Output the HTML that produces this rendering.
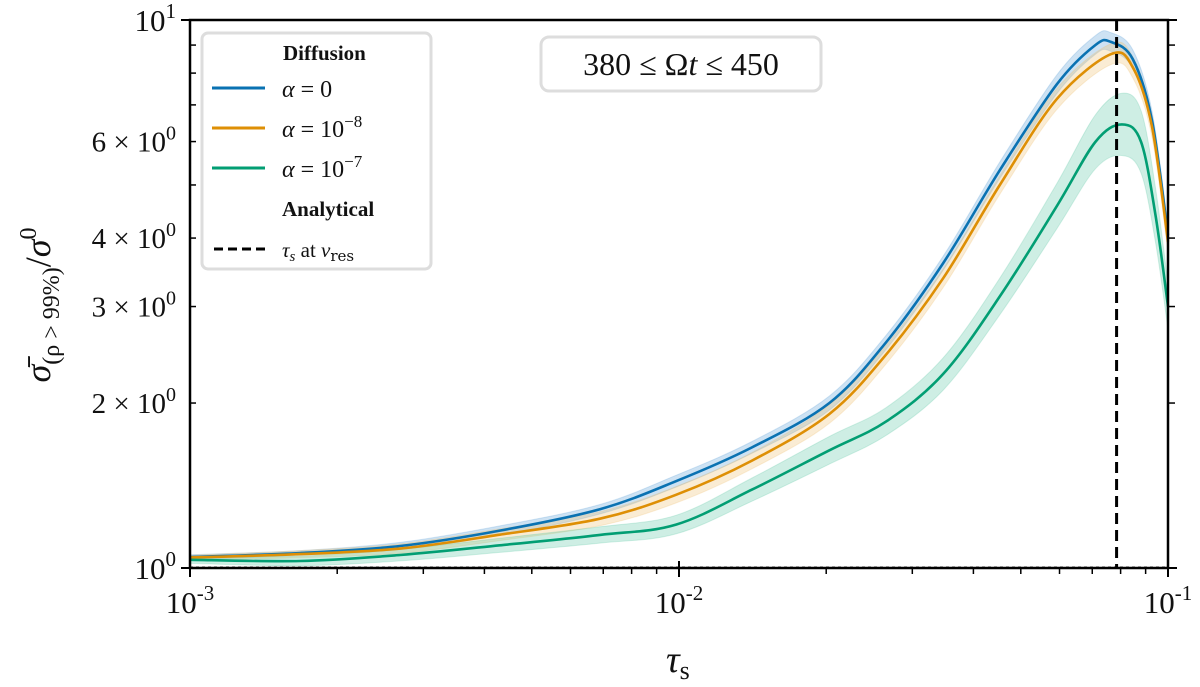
<!DOCTYPE html>
<html><head><meta charset="utf-8"><style>
html,body{margin:0;padding:0;background:#fff;}
svg{display:block;}
text{font-family:"Liberation Serif",serif;fill:#111;}
</style></head><body>
<svg id="chart" width="1200" height="687" viewBox="0 0 1200 687" xmlns="http://www.w3.org/2000/svg">
<g id="bands"></g>
<g id="lines"></g>
<g id="axes"></g>
</svg>
<script>
const tauBlue = [0.001,0.00168,0.00269,0.0043,0.00689,0.00986,0.0141,0.0203,0.0265,0.0347,0.0453,0.0593,0.071,0.0764,0.0847,0.0927,0.1];
const sigBlue = [1.047,1.065,1.097,1.17,1.28,1.44,1.66,2.0,2.58,3.6,5.32,7.64,9.0,9.12,8.49,6.57,4.05];
const errBlue = [0.01,0.01,0.015,0.02,0.02,0.025,0.025,0.03,0.03,0.03,0.035,0.04,0.04,0.04,0.04,0.04,0.04];
const tauOrange = [0.001,0.00168,0.00269,0.0043,0.00689,0.00986,0.0141,0.0203,0.0265,0.0347,0.0453,0.0593,0.0764,0.0847,0.0927,0.1];
const sigOrange = [1.045,1.06,1.085,1.15,1.23,1.36,1.57,1.91,2.45,3.38,5.0,7.18,8.66,8.2,6.4,3.94];
const errOrange = [0.01,0.015,0.02,0.025,0.03,0.035,0.035,0.04,0.04,0.04,0.04,0.045,0.045,0.045,0.045,0.045];
const tauGreen = [0.001,0.00168,0.00269,0.0043,0.00689,0.00986,0.0141,0.0203,0.0265,0.0347,0.0453,0.0593,0.071,0.0805,0.0881,0.0944,0.1];
const sigGreen = [1.035,1.03,1.056,1.10,1.149,1.20,1.39,1.64,1.85,2.26,3.13,4.58,5.99,6.45,5.99,4.37,3.0];
const errGreen = [0.015,0.02,0.025,0.03,0.035,0.04,0.05,0.06,0.06,0.07,0.08,0.10,0.12,0.14,0.14,0.12,0.1];
const tauRes = [0.0785];
const xMajorTicks = [0.001,0.01,0.1];
const xMajorLabels = ["-3","-2","-1"];
const yMajorTicks = [1,10];
const yMajorLabels = ["0","1"];
const yMinorLabeled = [2,3,4,6];

const X0=190,X1=1168,Y0=568,Y1=20;
function xs(v){return X0+(Math.log10(v)+3)/2*(X1-X0);}
function ys(v){return Y0-Math.log10(v)*(Y0-Y1);}
const NS="http://www.w3.org/2000/svg";
function mk(tag,attrs,parent){const e=document.createElementNS(NS,tag);for(const k in attrs)e.setAttribute(k,attrs[k]);parent.appendChild(e);return e;}
const bands=document.getElementById('bands'),lines=document.getElementById('lines'),axes=document.getElementById('axes');

function smooth(pts){
  let d='M'+pts[0][0].toFixed(1)+','+pts[0][1].toFixed(1);
  for(let i=0;i<pts.length-1;i++){
    const p0=pts[i-1]||pts[i],p1=pts[i],p2=pts[i+1],p3=pts[i+2]||p2;
    const c1=[p1[0]+(p2[0]-p0[0])/6,p1[1]+(p2[1]-p0[1])/6];
    const c2=[p2[0]-(p3[0]-p1[0])/6,p2[1]-(p3[1]-p1[1])/6];
    d+='C'+c1[0].toFixed(1)+','+c1[1].toFixed(1)+' '+c2[0].toFixed(1)+','+c2[1].toFixed(1)+' '+p2[0].toFixed(1)+','+p2[1].toFixed(1);
  }
  return d;
}
function series(t,s,err,color,fill,name){
  const up=t.map((v,i)=>[xs(v),ys(s[i]*(1+err[i]))]);
  const dn=t.map((v,i)=>[xs(v),ys(s[i]/(1+err[i]))]).reverse();
  const dd=smooth(up)+'L'+smooth(dn).slice(1)+'Z';
  const b=mk('path',{d:dd,fill:fill,'fill-opacity':0.3,stroke:fill,'stroke-opacity':0.25},bands);
  
  
  const l=mk('path',{d:smooth(t.map((v,i)=>[xs(v),ys(s[i])])),fill:'none',stroke:color,'stroke-width':2.6,'stroke-linejoin':'round'},lines);
  
  
}
series(tauBlue,sigBlue,errBlue,'#0a72b2','#5aa0d6','alpha-0');
series(tauOrange,sigOrange,errOrange,'#de8f05','#f0c070','alpha-1e-8');
series(tauGreen,sigGreen,errGreen,'#029e73','#5cc7a5','alpha-1e-7');

const base=mk('line',{x1:X0,x2:X1,y1:ys(1)-1,y2:ys(1)-1,stroke:'#333','stroke-width':1,'stroke-dasharray':'3,3'},lines);


const vres=mk('line',{x1:xs(tauRes[0]),x2:xs(tauRes[0]),y1:Y1,y2:Y0,stroke:'#000','stroke-width':3,'stroke-dasharray':'11,6'},lines);



const fr=mk('rect',{x:X0,y:Y1,width:X1-X0,height:Y0-Y1,fill:'none',stroke:'#000','stroke-width':2.5},axes);



for(let d=-3;d<=-1;d++){
  for(let m=1;m<10;m++){
    const v=m*Math.pow(10,d); if(v>0.1001)break;
    const x=xs(v);
    if(m===1){mk('line',{x1:x,x2:x,y1:Y0-7,y2:Y0+9,stroke:'#000','stroke-width':2},axes);}
    else mk('line',{x1:x,x2:x,y1:Y0,y2:Y0+6,stroke:'#000','stroke-width':1.5},axes);
  }
}
xMajorTicks.forEach((v,i)=>{
  const t=mk('text',{x:xs(v),y:613,'font-size':31,'text-anchor':'middle'},axes);
  
  
  t.innerHTML='10<tspan dy="-13" font-size="21">'+xMajorLabels[i]+'</tspan>';
});
for(let m=1;m<=10;m++){
  const y=ys(m);
  if(m===1||m===10){mk('line',{x1:X0-9,x2:X0+7,y1:y,y2:y,stroke:'#000','stroke-width':2},axes);mk('line',{x1:X1-7,x2:X1+9,y1:y,y2:y,stroke:'#000','stroke-width':2},axes);}
  else{mk('line',{x1:X0,x2:X0+6,y1:y,y2:y,stroke:'#000','stroke-width':1.5},axes);mk('line',{x1:X1,x2:X1+7,y1:y,y2:y,stroke:'#000','stroke-width':1.5},axes);}
}
yMajorTicks.forEach((v,i)=>{
  const t=mk('text',{x:176,y:ys(v)+11,'font-size':31,'text-anchor':'end'},axes);
  
  
  t.innerHTML='10<tspan dy="-13" font-size="21">'+yMajorLabels[i]+'</tspan>';
});
yMinorLabeled.forEach(v=>{
  const t=mk('text',{x:176,y:ys(v)+10,'font-size':29,'text-anchor':'end'},axes);
  
  
  t.innerHTML=v+' \u00d7 10<tspan dy="-12" font-size="20">0</tspan>';
});
</script>
<svg width="1200" height="687" style="position:absolute;left:0;top:0">
<text x="666" y="672" font-size="38" font-style="italic">τ<tspan font-size="26" dy="7" font-style="normal">s</tspan></text>
<text transform="translate(50,305) rotate(-90)" text-anchor="middle" font-size="36" font-family="DejaVu Sans"><tspan font-style="italic">σ̄</tspan><tspan font-size="24" dy="9">(ρ &gt; 99%)</tspan><tspan dy="-9">/</tspan><tspan font-style="italic">σ</tspan><tspan font-size="24" dy="-14">0</tspan></text>
<g>
<rect x="541" y="37" width="280" height="54" rx="8" fill="#fff" stroke="#ddd" stroke-width="3"/>
<text x="681" y="75" font-size="32" text-anchor="middle" font-family="DejaVu Sans">380 ≤ Ω<tspan font-style="italic">t</tspan> ≤ 450</text>
</g>
<g>
<rect x="202" y="33" width="229" height="236" rx="6" fill="#fff" fill-opacity="0.9" stroke="#ddd" stroke-width="3"/>
<text x="283" y="60" font-size="21" font-weight="bold" font-family="DejaVu Serif">Diffusion</text>
<line x1="212" x2="265" y1="88" y2="88" stroke="#0a72b2" stroke-width="3"/>
<text x="282" y="97" font-size="24" font-family="DejaVu Sans"><tspan font-style="italic">α</tspan> = 0</text>
<line x1="212" x2="265" y1="128" y2="128" stroke="#de8f05" stroke-width="3"/>
<text x="282" y="137" font-size="24" font-family="DejaVu Sans"><tspan font-style="italic">α</tspan> = 10<tspan dy="-10" font-size="17">−8</tspan></text>
<line x1="212" x2="265" y1="168" y2="168" stroke="#029e73" stroke-width="3"/>
<text x="282" y="177" font-size="24" font-family="DejaVu Sans"><tspan font-style="italic">α</tspan> = 10<tspan dy="-10" font-size="17">−7</tspan></text>
<text x="282" y="216" font-size="21" font-weight="bold" font-family="DejaVu Serif">Analytical</text>
<line x1="214" x2="265" y1="249" y2="249" stroke="#000" stroke-width="3" stroke-dasharray="9,5"/>
<text x="282" y="257" font-size="21" font-family="DejaVu Sans"><tspan font-style="italic">τ</tspan><tspan font-size="15" dy="4" font-style="italic">s</tspan><tspan dy="-4"> at </tspan><tspan font-style="italic">ν</tspan><tspan font-size="15" dy="4" font-family="DejaVu Serif">res</tspan></text>
</g>
</svg>
</body></html>
